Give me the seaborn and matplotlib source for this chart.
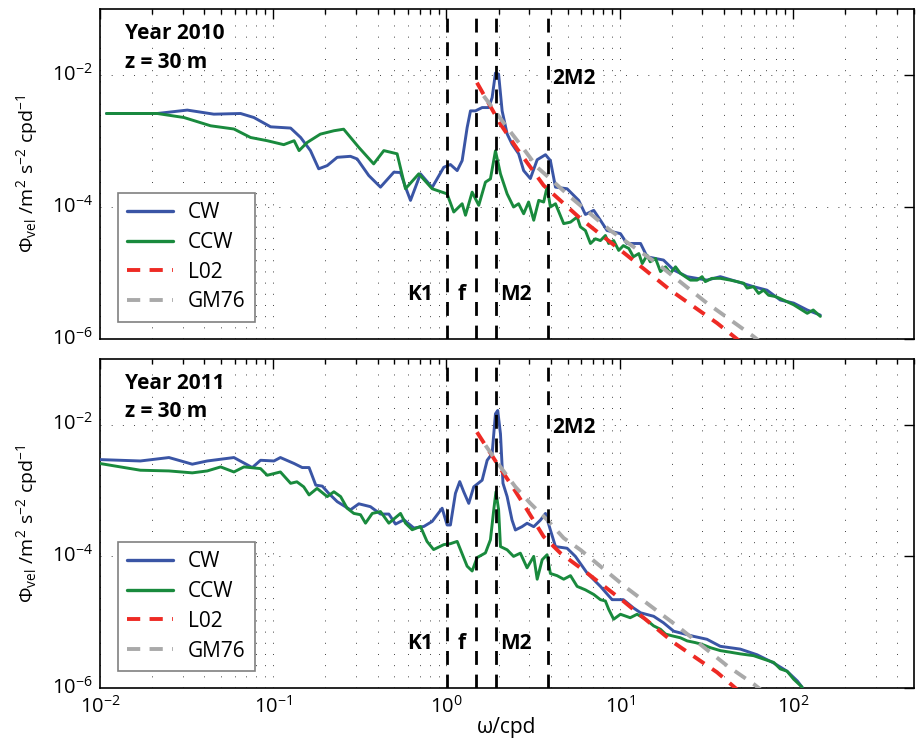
import numpy as np
import pandas as pd
import matplotlib
matplotlib.use("Agg")
import matplotlib.pyplot as plt
import matplotlib.transforms as mtransforms
import seaborn as sns
from matplotlib.ticker import FixedLocator, FuncFormatter, NullFormatter
from matplotlib.lines import Line2D

# ---------------- data ----------------
# Year 2010
freq_cw_2010 = [0.0109, 0.0214, 0.0319, 0.0454, 0.0648, 0.0773, 0.0966, 0.126, 0.144, 0.164,
                0.183, 0.205, 0.234, 0.279, 0.305, 0.356, 0.416, 0.497, 0.543, 0.580,
                0.620, 0.708, 0.827, 0.965, 1.054, 1.153, 1.232, 1.316, 1.376, 1.470,
                1.607, 1.754, 1.835, 1.918, 2.00, 2.096, 2.24, 2.39, 2.61, 2.79,
                3.05, 3.34, 3.73, 3.98, 4.26, 4.97, 5.80, 6.34, 7.08, 7.74,
                8.46, 10.1, 11.0, 13.2, 14.4, 17.9, 20.5, 24.5, 31.9, 38.1,
                47.6, 59.3, 70.8, 84.5, 101, 121, 144]
cw_2010 = [2.61e-3, 2.61e-3, 2.94e-3, 2.55e-3, 2.61e-3, 2.27e-3, 1.64e-3, 1.57e-3, 1.13e-3, 7.15e-4,
           3.79e-4, 4.24e-4, 5.66e-4, 5.86e-4, 5.35e-4, 3.0e-4, 2.0e-4, 3.37e-4, 3.33e-4, 2.0e-4,
           1.26e-4, 3.18e-4, 1.98e-4, 4.0e-4, 4.4e-4, 3.56e-4, 5.05e-4, 1.59e-3, 2.86e-3, 2.86e-3,
           3.21e-3, 3.21e-3, 4.55e-3, 1.07e-2, 1.03e-2, 2.86e-3, 1.28e-3, 9.0e-4, 6.4e-4, 3.56e-4,
           2.7e-4, 5.2e-4, 6.2e-4, 5.05e-4, 2.0e-4, 1.89e-4, 1.26e-4, 7.7e-5, 8.9e-5, 6.3e-5,
           4.4e-5, 3.95e-5, 2.8e-5, 2.8e-5, 1.76e-5, 1.57e-5, 1.11e-5, 8.8e-6, 7.8e-6, 8.8e-6,
           7.4e-6, 6.2e-6, 5.5e-6, 3.9e-6, 3.5e-6, 2.75e-6, 2.3e-6]

freq_ccw_2010 = [0.0109, 0.0214, 0.0305, 0.0435, 0.0593, 0.0740, 0.0923, 0.115, 0.132, 0.141,
                 0.157, 0.187, 0.224, 0.255, 0.312, 0.380, 0.435, 0.519, 0.580, 0.692,
                 0.827, 1.009, 1.102, 1.232, 1.288, 1.407, 1.536, 1.679, 1.794, 1.918,
                 2.05, 2.24, 2.44, 2.61, 2.79, 2.98, 3.19, 3.41, 3.64, 3.81,
                 3.98, 4.26, 4.75, 5.20, 5.68, 5.93, 6.34, 6.78, 7.24, 7.74,
                 8.27, 8.64, 9.23, 9.87, 10.5, 11.3, 12.0, 12.9, 13.5, 14.4,
                 15.0, 16.1, 17.2, 18.4, 19.6, 21.0, 22.4, 23.9, 25.6, 28.0,
                 29.9, 31.2, 34.1, 38.1, 43.5, 47.6, 52.0, 54.4, 59.3, 63.4,
                 67.7, 72.4, 79.1, 84.5, 101, 121, 131, 144]
ccw_2010 = [2.61e-3, 2.61e-3, 2.27e-3, 1.70e-3, 1.52e-3, 1.13e-3, 1.01e-3, 8.8e-4, 1.01e-3, 7.15e-4,
            9.5e-4, 1.27e-3, 1.43e-3, 1.51e-3, 8.0e-4, 4.5e-4, 7.15e-4, 6.4e-4, 1.89e-4, 3.18e-4,
            1.89e-4, 1.58e-4, 8.4e-5, 1.12e-4, 7.5e-5, 1.68e-4, 1.06e-4, 2.38e-4, 2.67e-4, 7.1e-4,
            3.18e-4, 1.58e-4, 1.0e-4, 1.12e-4, 7.9e-5, 1.19e-4, 6.3e-5, 1.26e-4, 1.19e-4, 2.0e-4,
            1.0e-4, 1.12e-4, 5.6e-5, 5.9e-5, 7.05e-5, 5.0e-5, 4.4e-5, 2.8e-5, 3.3e-5, 3.1e-5,
            3.7e-5, 2.8e-5, 3.1e-5, 2.2e-5, 2.6e-5, 2.35e-5, 1.76e-5, 1.97e-5, 1.39e-5, 1.86e-5,
            1.48e-5, 1.66e-5, 1.05e-5, 1.24e-5, 9.9e-6, 1.24e-5, 9.9e-6, 8.8e-6, 7.8e-6, 7.8e-6,
            8.8e-6, 7.4e-6, 8.3e-6, 8.3e-6, 7.8e-6, 7.4e-6, 7.0e-6, 5.9e-6, 6.2e-6, 4.9e-6,
            5.5e-6, 4.6e-6, 4.4e-6, 4.1e-6, 3.3e-6, 2.45e-6, 2.75e-6, 2.2e-6]

freq_l02_2010 = [1.50, 2.05, 2.56, 3.64, 5.93, 11.0, 19.6, 36.5, 50.0]
l02_2010 = [7.65e-3, 1.80e-3, 7.6e-4, 2.12e-4, 6.7e-5, 1.86e-5, 5.5e-6, 1.74e-6, 9.0e-7]

freq_gm_2010 = [1.64, 2.24, 2.79, 3.34, 3.98, 5.20, 8.84, 16.4, 31.9, 59.3, 65.0]
gm_2010 = [4.82e-3, 1.60e-3, 7.6e-4, 4.0e-4, 2.67e-4, 1.41e-4, 4.4e-5, 1.40e-5, 3.5e-6, 1.09e-6, 9.0e-7]

# Year 2011
freq_cw_2011 = [0.0100, 0.0171, 0.0250, 0.0341, 0.0416, 0.0593, 0.0757, 0.0845, 0.101, 0.110,
                0.132, 0.147, 0.161, 0.176, 0.192, 0.209, 0.234, 0.279, 0.312, 0.364,
                0.416, 0.465, 0.508, 0.568, 0.648, 0.740, 0.827, 0.944, 1.009, 1.054,
                1.127, 1.193, 1.258, 1.345, 1.437, 1.607, 1.718, 1.835, 1.918, 1.977,
                2.05, 2.12, 2.24, 2.39, 2.50, 2.73, 2.92, 3.19, 3.49, 3.73,
                3.98, 4.26, 4.97, 5.55, 6.48, 7.74, 9.04, 10.5, 12.0, 13.2,
                15.7, 17.9, 20.5, 26.7, 31.9, 38.1, 49.7, 62.1, 77.4, 92.5,
                106, 113]
cw_2011 = [2.96e-3, 2.82e-3, 3.18e-3, 2.52e-3, 2.82e-3, 3.18e-3, 2.24e-3, 2.89e-3, 2.82e-3, 3.18e-3,
           2.58e-3, 2.24e-3, 2.24e-3, 1.21e-3, 1.17e-3, 9.1e-4, 6.8e-4, 5.1e-4, 6.3e-4, 5.7e-4,
           4.4e-4, 4.4e-4, 3.1e-4, 3.6e-4, 2.7e-4, 2.85e-4, 3.4e-4, 5.4e-4, 3.0e-4, 3.0e-4,
           9.1e-4, 1.37e-3, 9.6e-4, 6.4e-4, 1.14e-3, 1.44e-3, 2.89e-3, 3.65e-3, 1.47e-2, 1.65e-2,
           7.3e-3, 1.29e-3, 8.1e-4, 3.57e-4, 2.52e-4, 2.83e-4, 3.19e-4, 2.83e-4, 3.57e-4, 4.5e-4,
           2.52e-4, 1.41e-4, 1.33e-4, 1.0e-4, 5.6e-5, 3.5e-5, 2.2e-5, 2.2e-5, 1.65e-5, 1.39e-5,
           1.23e-5, 9.8e-6, 7.3e-6, 6.1e-6, 5.5e-6, 4.3e-6, 3.9e-6, 3.2e-6, 2.4e-6, 1.8e-6,
           1.28e-6, 1.03e-6]

freq_ccw_2011 = [0.0100, 0.0171, 0.0250, 0.0341, 0.0416, 0.0497, 0.0593, 0.0677, 0.0845, 0.0923,
                 0.110, 0.126, 0.137, 0.150, 0.161, 0.179, 0.205, 0.224, 0.245, 0.267,
                 0.292, 0.319, 0.341, 0.373, 0.416, 0.465, 0.543, 0.580, 0.634, 0.708,
                 0.772, 0.843, 0.965, 1.054, 1.153, 1.316, 1.407, 1.503, 1.679, 1.794,
                 1.875, 1.931, 2.00, 2.05, 2.24, 2.44, 2.67, 2.92, 3.19, 3.34,
                 3.57, 3.81, 3.98, 4.35, 4.75, 5.20, 5.68, 6.34, 7.08, 7.74,
                 8.27, 8.64, 9.23, 10.1, 11.5, 12.6, 14.1, 15.7, 17.2, 18.4,
                 20.1, 22.4, 24.5, 27.3, 29.9, 33.4, 38.1, 43.5, 49.7, 59.3,
                 67.7, 77.4, 84.5, 92.5, 101, 113]
ccw_2011 = [2.58e-3, 2.04e-3, 1.99e-3, 1.86e-3, 1.99e-3, 2.29e-3, 1.92e-3, 2.29e-3, 2.16e-3, 1.71e-3,
            1.92e-3, 1.29e-3, 1.36e-3, 1.14e-3, 8.6e-4, 1.08e-3, 8.1e-4, 9.6e-4, 8.1e-4, 5.4e-4,
            4.5e-4, 4.3e-4, 3.2e-4, 4.5e-4, 4.8e-4, 3.2e-4, 4.5e-4, 3.2e-4, 2.54e-4, 2.85e-4,
            1.69e-4, 1.27e-4, 1.51e-4, 1.56e-4, 1.69e-4, 7.1e-5, 6.0e-5, 9.6e-5, 1.13e-4, 1.79e-4,
            5.1e-4, 9.6e-4, 5.1e-4, 1.41e-4, 1.26e-4, 1.0e-4, 1.12e-4, 6.7e-5, 1.0e-4, 4.5e-5,
            8.9e-5, 1.06e-4, 5.5e-5, 5.1e-5, 4.5e-5, 5.1e-5, 3.5e-5, 3.1e-5, 2.64e-5, 2.2e-5,
            2.1e-5, 1.57e-5, 1.11e-5, 1.32e-5, 1.17e-5, 1.32e-5, 1.11e-5, 8.8e-6, 7.8e-6, 6.6e-6,
            6.2e-6, 5.8e-6, 5.2e-6, 4.9e-6, 4.6e-6, 4.1e-6, 3.7e-6, 3.5e-6, 3.3e-6, 3.1e-6,
            2.75e-6, 2.45e-6, 1.95e-6, 1.8e-6, 1.36e-6, 1.03e-6]

freq_l02_2011 = [1.50, 1.96, 2.44, 2.92, 3.64, 4.55, 5.93, 10.5, 20.5, 36.5, 50.0]
l02_2011 = [7.73e-3, 2.58e-3, 1.08e-3, 5.1e-4, 2.0e-4, 1.12e-4, 6.7e-5, 2.09e-5, 4.9e-6, 1.73e-6, 8.5e-7]

freq_gm_2011 = [1.68, 2.05, 2.50, 3.05, 3.81, 4.75, 5.93, 11.0, 21.4, 41.7, 59.3, 65.0]
gm_2011 = [4.87e-3, 2.29e-3, 1.14e-3, 6.4e-4, 3.6e-4, 1.90e-4, 1.26e-4, 3.3e-5, 8.8e-6, 2.18e-6, 1.15e-6, 9.5e-7]

tide_freqs = [1.0027, 1.485, 1.932, 3.864]
tide_labels = ["K1", "f", "M2", "2M2"]
years = ["Year 2010", "Year 2011"]
series_labels = ["CW", "CCW", "L02", "GM76"]

# ---------------- style ----------------
sns.set_theme(style="white")
plt.rcParams['font.family'] = ['Open Sans', 'DejaVu Sans']
plt.rcParams['mathtext.fontset'] = 'custom'
plt.rcParams['mathtext.rm'] = 'Open Sans'
plt.rcParams['mathtext.it'] = 'Open Sans:italic'
plt.rcParams['mathtext.bf'] = 'Open Sans:bold'
for key in ['text.color', 'axes.labelcolor', 'xtick.color', 'ytick.color',
            'xtick.labelcolor', 'ytick.labelcolor']:
    plt.rcParams[key] = 'black'

C_CW = '#3a55a5'
C_CCW = '#198a3d'
C_L02 = '#ee2a24'
C_GM = '#a9a9a9'
FS = 15

fig = plt.figure(figsize=(9.2, 7.39), dpi=100)
ax_top = fig.add_axes([100/920, 1-339/739, 814/920, 330/739])
ax_bot = fig.add_axes([100/920, 1-688/739, 814/920, 329/739])

panels = [
    (ax_top, years[0], freq_cw_2010, cw_2010, freq_ccw_2010, ccw_2010,
     freq_l02_2010, l02_2010, freq_gm_2010, gm_2010),
    (ax_bot, years[1], freq_cw_2011, cw_2011, freq_ccw_2011, ccw_2011,
     freq_l02_2011, l02_2011, freq_gm_2011, gm_2011),
]

def fmt_pow(v, pos):
    e = int(round(np.log10(v)))
    return r'$\mathregular{10^{%d}}$' % e

minor_x = [m * 10.0**d for d in range(-2, 3) for m in range(2, 10) if m * 10.0**d <= 500]
lift = mtransforms.ScaledTranslation(0, 3 / 100.0, fig.dpi_scale_trans)

for i, (ax, yr, fcw, vcw, fccw, vccw, fl, vl, fg, vg) in enumerate(panels):
    ax.set_xscale('log')
    ax.set_yscale('log')
    ax.set_xlim(1e-2, 500)
    ax.set_ylim(1e-6, 1e-1)

    sns.lineplot(x=fcw, y=vcw, ax=ax, color=C_CW, linewidth=2.1, estimator=None, sort=False, zorder=3)
    sns.lineplot(x=fccw, y=vccw, ax=ax, color=C_CCW, linewidth=2.1, estimator=None, sort=False, zorder=3)
    sns.lineplot(x=fl, y=vl, ax=ax, color=C_L02, linewidth=2.8, estimator=None, sort=False,
                 linestyle=(0, (3.4, 2.4)), zorder=4)
    sns.lineplot(x=fg, y=vg, ax=ax, color=C_GM, linewidth=2.8, estimator=None, sort=False,
                 linestyle=(0, (3.4, 2.4)), zorder=4)

    for tf in tide_freqs:
        ax.axvline(tf, color='black', linewidth=2.0, linestyle=(0, (5, 3.5)), zorder=5)

    # tidal labels
    ax.text(0.84, 4.7e-6, tide_labels[0], ha='right', va='center', fontsize=FS, fontweight='bold')
    ax.text(1.22, 4.7e-6, tide_labels[1], ha='center', va='center', fontsize=FS, fontweight='bold')
    ax.text(2.03, 4.7e-6, tide_labels[2], ha='left', va='center', fontsize=FS, fontweight='bold')
    ax.text(4.05, 9.0e-3, tide_labels[3], ha='left', va='center', fontsize=FS, fontweight='bold')

    ax.text(0.031, 0.926, yr, transform=ax.transAxes, ha='left', va='center',
            fontsize=FS, fontweight='bold')
    ax.text(0.031, 0.839, 'z = 30 m', transform=ax.transAxes, ha='left', va='center',
            fontsize=FS, fontweight='bold')

    # ticks and grid
    ax.xaxis.set_major_locator(FixedLocator([1e-2, 1e-1, 1e0, 1e1, 1e2]))
    ax.xaxis.set_minor_locator(FixedLocator(minor_x))
    ax.xaxis.set_minor_formatter(NullFormatter())
    ax.yaxis.set_major_locator(FixedLocator([1e-6, 1e-4, 1e-2]))
    ax.yaxis.set_minor_locator(FixedLocator([]))
    ax.yaxis.set_major_formatter(FuncFormatter(fmt_pow))

    ax.tick_params(which='both', direction='in', top=True, right=True, labelsize=14.5,
                   width=1.0, color='black')
    ax.tick_params(axis='y', pad=5)
    ax.tick_params(axis='x', pad=6)
    ax.tick_params(which='major', length=7)
    ax.tick_params(which='minor', length=3.5)

    if i == 0:
        ax.xaxis.set_major_formatter(NullFormatter())
    else:
        ax.xaxis.set_major_formatter(FuncFormatter(fmt_pow))
        ax.set_xlabel('ω/cpd', fontsize=FS)
        ax.xaxis.set_label_coords(0.5, -0.088)

    for lab in ax.get_yticklabels():
        lab.set_transform(lab.get_transform() + lift)

    ax.grid(True, which='both', axis='x', color='black', alpha=0.75,
            linewidth=0.7, linestyle=(0, (1, 10.5)))
    ax.grid(True, which='major', axis='y', color='black', alpha=0.75,
            linewidth=0.7, linestyle=(0, (1, 10.5)))
    for sp in ax.spines.values():
        sp.set_color('black')
        sp.set_linewidth(1.2)

    ax.set_ylabel(r'$\mathregular{\Phi_{vel}\ /m^2\ s^{-2}\ cpd^{-1}}$', fontsize=14)
    ax.yaxis.set_label_coords(-0.074, 0.5)

    handles = [Line2D([], [], color=C_CW, lw=2.4),
               Line2D([], [], color=C_CCW, lw=2.4),
               Line2D([], [], color=C_L02, lw=2.8, linestyle=(0, (3.4, 2.4))),
               Line2D([], [], color=C_GM, lw=2.8, linestyle=(0, (3.4, 2.4)))]
    leg = ax.legend(handles, series_labels, loc='lower left', bbox_to_anchor=(0.022, 0.052),
                    borderaxespad=0, frameon=True, fancybox=False, edgecolor='#808080',
                    framealpha=1, fontsize=FS, handlelength=2.2, labelspacing=0.42,
                    borderpad=0.45, handletextpad=0.7)
    leg.get_frame().set_linewidth(1.2)
    leg.set_zorder(10)

fig.savefig('out.png', dpi=100)
